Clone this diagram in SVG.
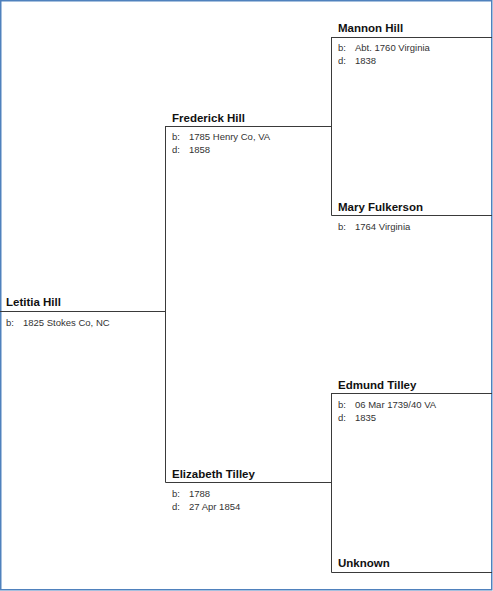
<svg xmlns="http://www.w3.org/2000/svg" width="493" height="591" viewBox="0 0 493 591">
<style>
.frame{fill:#ffffff;stroke:#4f81bd;stroke-width:1.5}
.ln{stroke:#3a3a3a;stroke-width:1;fill:none}
.nm{font-family:"Liberation Sans",Arial,sans-serif;font-weight:bold;font-size:11.5px;fill:#111111}
.dt{font-family:"Liberation Sans",Arial,sans-serif;font-size:9.5px;fill:#333333}
</style>
<rect class="frame" x="0.75" y="0.75" width="491" height="589"/>
<g id="connectors">
<path class="ln" d="M0,311.5H165.5M165.5,126V482.5M165.5,126.5H331.5M165.5,482.5H331.5M331.5,37V215.5M331.5,37.5H492M331.5,215.5H492M331.5,393V572.5M331.5,393.5H492M331.5,572.5H492"/>
</g>
<g id="letitia">
<text class="nm" x="6" y="306">Letitia Hill</text>
<text class="dt" x="6" y="326">b:</text><text class="dt" x="23" y="326">1825 Stokes Co, NC</text>
</g>
<g id="frederick">
<text class="nm" x="172" y="122">Frederick Hill</text>
<text class="dt" x="172" y="140">b:</text><text class="dt" x="189" y="140">1785 Henry Co, VA</text>
<text class="dt" x="172" y="153">d:</text><text class="dt" x="189" y="153">1858</text>
</g>
<g id="elizabeth">
<text class="nm" x="172" y="478">Elizabeth Tilley</text>
<text class="dt" x="172" y="497">b:</text><text class="dt" x="189" y="497">1788</text>
<text class="dt" x="172" y="510">d:</text><text class="dt" x="189" y="510">27 Apr 1854</text>
</g>
<g id="mannon">
<text class="nm" x="338" y="32">Mannon Hill</text>
<text class="dt" x="338" y="51">b:</text><text class="dt" x="355" y="51">Abt. 1760 Virginia</text>
<text class="dt" x="338" y="64">d:</text><text class="dt" x="355" y="64">1838</text>
</g>
<g id="mary">
<text class="nm" x="338" y="211">Mary Fulkerson</text>
<text class="dt" x="338" y="230">b:</text><text class="dt" x="355" y="230">1764 Virginia</text>
</g>
<g id="edmund">
<text class="nm" x="338" y="389">Edmund Tilley</text>
<text class="dt" x="338" y="408">b:</text><text class="dt" x="355" y="408">06 Mar 1739/40 VA</text>
<text class="dt" x="338" y="421">d:</text><text class="dt" x="355" y="421">1835</text>
</g>
<g id="unknown">
<text class="nm" x="338" y="567">Unknown</text>
</g>
</svg>
